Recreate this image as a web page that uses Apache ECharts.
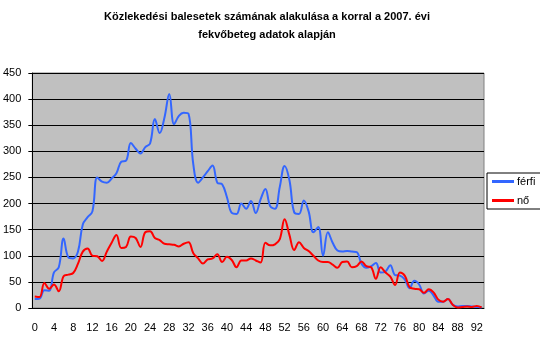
<!DOCTYPE html>
<html>
<head>
<meta charset="utf-8">
<script src="https://cdn.jsdelivr.net/npm/echarts@6/dist/echarts.min.js"></script>
<style>
  html, body { margin: 0; padding: 0; background: #fff; }
  #chart { width: 540px; height: 340px; }
</style>
</head>
<body>
<div id="chart"></div>
<script>
var ages = [];
for (var a = 0; a <= 93; a++) { ages.push(String(a)); }

var ferfi = [17, 18, 34, 33, 68, 78, 133, 97, 95, 108,
    160, 174, 185, 250, 242, 240, 248, 258, 280, 282,
    316, 305, 296, 308, 315, 362, 335, 365, 410, 352,
    368, 374, 372, 275, 240, 250, 262, 273, 240, 237,
    212, 182, 180, 200, 190, 205, 182, 208, 228, 195,
    190, 232, 272, 245, 183, 180, 206, 185, 145, 155,
    100, 145, 125, 110, 108, 109, 108, 107, 85, 77,
    80, 86, 68, 70, 82, 63, 62, 55, 38, 52,
    45, 28, 33, 24, 12, 12, 17, 6, 3, 4,
    4, 3, 2, 1];

var no = [22, 21, 48, 37, 45, 32, 61, 64, 67, 85,
    108, 114, 100, 99, 90, 108, 125, 140, 115, 117,
    137, 134, 117, 145, 147, 134, 130, 123, 122, 121,
    118, 123, 126, 105, 95, 85, 93, 95, 103, 88,
    98, 92, 78, 91, 91, 95, 91, 87, 125, 120,
    122, 132, 170, 140, 111, 126, 115, 109, 100, 91,
    88, 88, 83, 77, 88, 89, 78, 80, 89, 80,
    78, 56, 78, 68, 60, 44, 68, 62, 40, 37,
    36, 29, 36, 30, 16, 12, 17, 6, 1, 2,
    3, 2, 4, 1];

var chartDom = document.getElementById('chart');
var myChart = echarts.init(chartDom);

var font = 'Liberation Sans, Arial, sans-serif';

var option = {
    animation: false,
    title: {
        text: 'Közlekedési balesetek számának alakulása a korral a 2007. évi\nfekvőbeteg adatok alapján',
        left: 262,
        textAlign: 'center',
        top: 3,
        textStyle: {
            fontFamily: font,
            fontSize: 11,
            fontWeight: 'bold',
            color: '#000',
            lineHeight: 18
        }
    },
    legend: {
        orient: 'vertical',
        left: 487,
        top: 173,
        data: ['férfi', 'nő'],
        icon: 'rect',
        itemWidth: 22,
        itemHeight: 3,
        itemGap: 8,
        padding: [3, 30, 3, 5],
        borderColor: '#000',
        borderWidth: 1,
        textStyle: {
            fontFamily: font,
            fontSize: 11,
            color: '#000',
            padding: [0, 0, 0, -2]
        }
    },
    grid: {
        left: 31,
        right: 56,
        top: 73,
        bottom: 32,
        show: true,
        backgroundColor: '#c0c0c0',
        borderColor: '#808080',
        borderWidth: 1
    },
    xAxis: {
        type: 'category',
        data: ages,
        boundaryGap: true,
        axisLine: { lineStyle: { color: '#000', width: 1 } },
        axisTick: { interval: 0, length: 5, lineStyle: { color: '#000' } },
        axisLabel: {
            interval: 3,
            color: '#000',
            fontFamily: font,
            fontSize: 11,
            margin: 14
        },
        splitLine: { show: false }
    },
    yAxis: {
        type: 'value',
        min: 0,
        max: 450,
        interval: 50,
        axisLine: { show: true, lineStyle: { color: '#000' } },
        axisTick: { show: true, length: 4, lineStyle: { color: '#000' } },
        axisLabel: {
            color: '#000',
            fontFamily: font,
            fontSize: 11,
            margin: 11
        },
        splitLine: { lineStyle: { color: '#000', width: 1 } }
    },
    series: [
        {
            name: 'férfi',
            type: 'line',
            data: ferfi,
            smooth: 0.4,
            symbol: 'none',
            itemStyle: { color: '#3366ff' },
            lineStyle: { color: '#3366ff', width: 2 }
        },
        {
            name: 'nő',
            type: 'line',
            data: no,
            smooth: 0.4,
            symbol: 'none',
            itemStyle: { color: '#ff0000' },
            lineStyle: { color: '#ff0000', width: 2 }
        }
    ]
};

myChart.setOption(option);
</script>
</body>
</html>
